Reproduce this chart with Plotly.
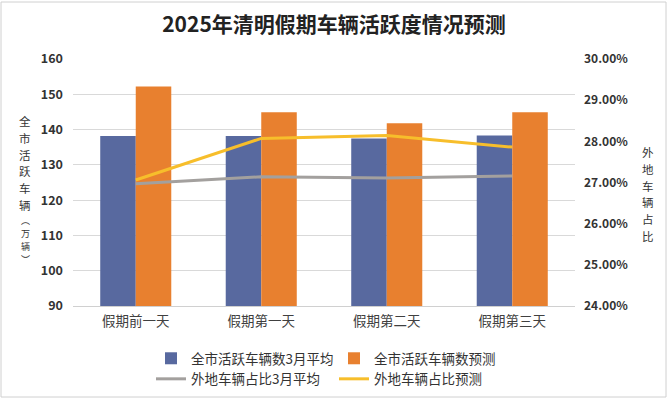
import plotly.graph_objects as go

categories = ["假期前一天", "假期第一天", "假期第二天", "假期第三天"]
avg_march = [138.2, 138.2, 137.5, 138.3]
forecast = [152.2, 144.9, 141.8, 144.9]
share_avg = [0.2697, 0.2714, 0.2711, 0.2716]
share_forecast = [0.2706, 0.2807, 0.2814, 0.2786]
left_ticks = [90, 100, 110, 120, 130, 140, 150, 160]
right_ticks = [0.24, 0.25, 0.26, 0.27, 0.28, 0.29, 0.30]

W, H = 668, 399
L, R, T, B = 73, 93, 59, 93
PW, PH = W - L - R, H - T - B
FONT = "Noto Sans CJK SC"

fig = go.Figure()
fig.add_trace(go.Bar(x=categories, y=avg_march, name="全市活跃车辆数3月平均",
                     marker=dict(color="#58699F", line=dict(width=0)), yaxis="y"))
fig.add_trace(go.Bar(x=categories, y=forecast, name="全市活跃车辆数预测",
                     marker=dict(color="#E8802F", line=dict(width=0)), yaxis="y"))
fig.add_trace(go.Scatter(x=categories, y=share_avg, name="外地车辆占比3月平均", mode="lines",
                         line=dict(color="#A3A09E", width=3), yaxis="y2"))
fig.add_trace(go.Scatter(x=categories, y=share_forecast, name="外地车辆占比预测", mode="lines",
                         line=dict(color="#F7BE2B", width=3), yaxis="y2"))

def px_x(x):
    return (x - L) / PW

def px_y(y):
    return (T + PH - y) / PH

def vertical_text(chars, x, y_start, size, pitch):
    out = []
    for i, ch in enumerate(chars):
        out.append(dict(text=ch, x=px_x(x), y=px_y(y_start + i * pitch), xref="paper", yref="paper",
                        showarrow=False, xanchor="center", yanchor="middle", borderpad=0,
                        font=dict(family=FONT, size=size, color="#333333")))
    return out

annotations = []
annotations += vertical_text(["全", "市", "活", "跃", "车", "辆"], 25, 121, 11.5, 16.8)
annotations += vertical_text(["︵", "万", "辆", "︶"], 25, 121 + 6 * 16.8 - 1.5, 9, 13.2)
annotations += vertical_text(["外", "地", "车", "辆", "占", "比"], 648, 152, 11.5, 16.8)

fig.update_layout(
    width=W, height=H,
    margin=dict(l=L, r=R, t=T, b=B, autoexpand=False),
    paper_bgcolor="white", plot_bgcolor="white",
    title=dict(text="<b>2025年清明假期车辆活跃度情况预测</b>", x=0.5, xref="container", xanchor="center",
               y=1 - 25 / H, yanchor="middle",
               font=dict(family=FONT, size=21, color="#222222")),
    barmode="group", bargap=0.434, bargroupgap=0,
    font=dict(family=FONT, color="#333333"),
    xaxis=dict(showgrid=False, showline=True, linecolor="#D0D0D0", linewidth=1, ticks="",
               tickfont=dict(size=13.5, color="#404040"), ticklabelstandoff=3),
    yaxis=dict(range=[90, 160], tickvals=left_ticks, showgrid=True, gridcolor="#D9D9D9",
               gridwidth=1, zeroline=False, showline=False,
               tickfont=dict(size=12.5, color="#333333", weight="bold"), ticklabelstandoff=9),
    yaxis2=dict(range=[0.24, 0.30], tickvals=right_ticks, tickformat=".2%", overlaying="y",
                side="right", showgrid=False, zeroline=False, showline=False,
                tickfont=dict(size=12, color="#333333", weight="bold"), ticklabelstandoff=8),
    legend=dict(orientation="h", x=px_x(151), xanchor="left", y=px_y(343), yanchor="top",
                entrywidth=138, entrywidthmode="pixels", traceorder="normal",
                font=dict(size=13.5, color="#333333"), itemwidth=30, tracegroupgap=0),
    annotations=annotations,
    shapes=[dict(type="rect", xref="paper", yref="paper", x0=px_x(1), x1=px_x(666),
                 y0=px_y(397), y1=px_y(2), line=dict(color="#D0D0D0", width=1), layer="below")],
)

fig.write_html("out.html", config={"displayModeBar": False},
               post_script="document.body.style.margin='0';")
